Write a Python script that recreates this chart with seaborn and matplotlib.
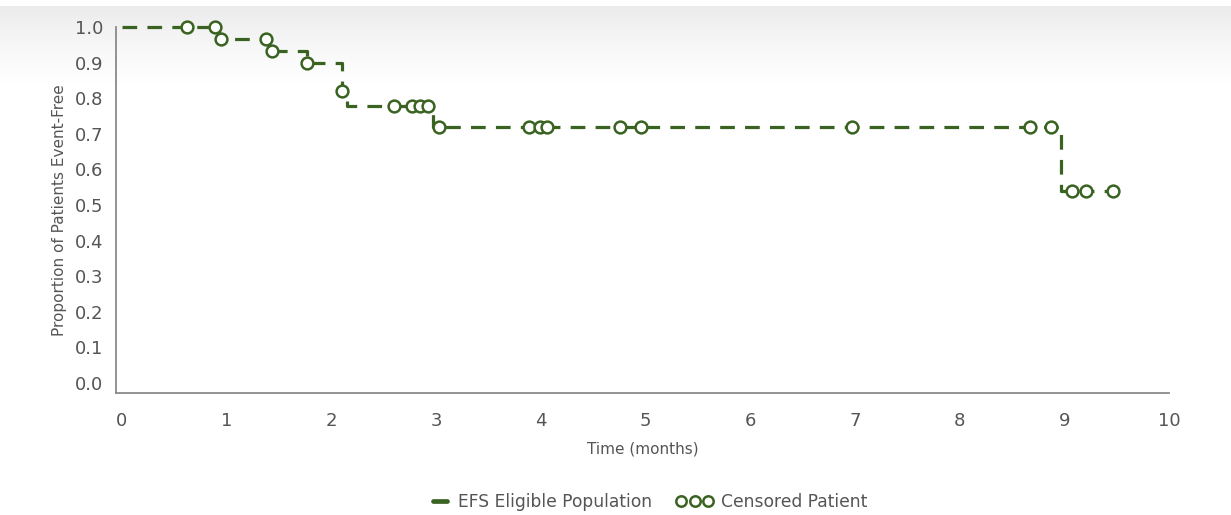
import numpy as np
import pandas as pd
import matplotlib
matplotlib.use("Agg")
import matplotlib.pyplot as plt
import seaborn as sns
from matplotlib.lines import Line2D
from matplotlib.legend_handler import HandlerBase, HandlerLine2D

# ---- data ----
step_times = [0.0, 0.93, 1.40, 1.77, 2.10, 2.15, 2.97, 8.97, 9.50]
step_surv = [1.000, 0.967, 0.933, 0.900, 0.820, 0.778, 0.720, 0.540, 0.540]

cens_times = [0.62, 0.89, 0.95, 1.38, 1.43, 1.77, 2.10, 2.60, 2.77, 2.85, 2.92,
              3.03, 3.89, 3.99, 4.06, 4.76, 4.96, 6.97, 8.67, 8.87,
              9.07, 9.21, 9.47]
cens_surv = [1.000, 1.000, 0.967, 0.967, 0.933, 0.900, 0.820, 0.778, 0.778, 0.778, 0.778,
             0.720, 0.720, 0.720, 0.720, 0.720, 0.720, 0.720, 0.720, 0.720,
             0.540, 0.540, 0.540]

x_ticks = list(range(0, 11))
y_ticks = [round(0.1 * i, 1) for i in range(11)]
series_label = "EFS Eligible Population"
cens_label = "Censored Patient"

GREEN = "#3a6322"
GRAY = "#555555"
SPINE = "#8a8a8a"

sns.set_theme(style="white")
plt.rcParams['font.family'] = ['DejaVu Sans']

fig = plt.figure(figsize=(12.31, 5.15), dpi=100)

# soft gray gradient at the top of the figure
bg = fig.add_axes([0, 0, 1, 1], zorder=-10)
grad = np.linspace(0, 1, 512).reshape(-1, 1)
alpha = np.clip((grad - 0.835) / (0.99 - 0.835), 0, 1) ** 1.3
alpha[grad > 0.99] = 0
img = np.ones((512, 1, 4))
img[..., :3] = 0.925
img[..., 3] = alpha
bg.imshow(img, aspect="auto", extent=[0, 1, 0, 1], origin="lower")
bg.set_axis_off()

ax = fig.add_axes([0.0942, 0.2369, 0.8554, 0.7107])
ax.patch.set_alpha(0)

df_step = pd.DataFrame({"t": step_times, "s": step_surv})
df_cens = pd.DataFrame({"t": cens_times, "s": cens_surv})

sns.lineplot(data=df_step, x="t", y="s", ax=ax, estimator=None,
             drawstyle="steps-post", color=GREEN, lw=2.3, clip_on=False)
ax.lines[-1].set_linestyle((0, (4.6, 3.2)))
sns.scatterplot(data=df_cens, x="t", y="s", ax=ax, marker="o", s=72,
                facecolor="white", edgecolor=GREEN, linewidth=1.8,
                zorder=3, clip_on=False)

ax.set_xlim(-0.057, 10)
ax.set_ylim(-0.028, 1.0)
ax.set_xticks(x_ticks)
ax.set_xticklabels([str(v) for v in x_ticks])
ax.set_yticks(y_ticks)
ax.set_yticklabels([f"{v:.1f}" for v in y_ticks])

for side in ["top", "right"]:
    ax.spines[side].set_visible(False)
for side in ["left", "bottom"]:
    ax.spines[side].set_color(SPINE)
    ax.spines[side].set_linewidth(1.3)
ax.tick_params(axis="both", direction="out", length=6, width=1.1,
               color=SPINE, labelcolor=GRAY, labelsize=13, pad=3)
ax.tick_params(axis="x", pad=8)

ax.set_xlabel("Time (months)", color=GRAY, fontsize=11, labelpad=8)
ax.set_ylabel("Proportion of Patients Event-Free", color=GRAY, fontsize=11, labelpad=6)


class ShortLine(HandlerBase):
    def create_artists(self, legend, orig_handle, xdescent, ydescent,
                       width, height, fontsize, trans):
        y = height / 2 - ydescent
        x0 = -xdescent + width * 0.55
        x1 = -xdescent + width * 0.92
        ln = Line2D([x0, x1], [y, y], color=GREEN, lw=3.4, transform=trans)
        return [ln]


h_line = Line2D([], [], color=GREEN, lw=3)
h_cens = Line2D([], [], linestyle="none", marker="o", markersize=7.5,
                markerfacecolor="white", markeredgecolor=GREEN, markeredgewidth=1.8)

fig.legend([h_line, h_cens], [series_label, cens_label],
           loc="center", bbox_to_anchor=(0.52, 0.025), ncol=2, frameon=False,
           fontsize=12.3, labelcolor=GRAY, handlelength=2.2, handletextpad=0.45,
           columnspacing=1.4,
           handler_map={h_line: ShortLine(), h_cens: HandlerLine2D(numpoints=3)})

fig.savefig("out.png", dpi=100)
